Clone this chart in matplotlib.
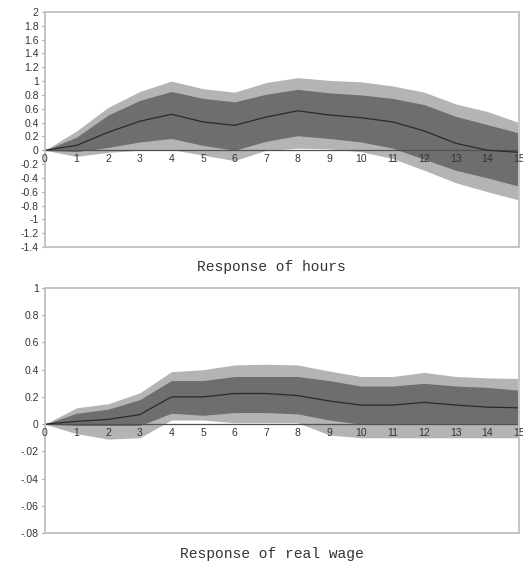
"""Impulse responses of hours and real wage with two confidence bands."""
import matplotlib

matplotlib.use("Agg")
import matplotlib.pyplot as plt
import numpy as np

horizon = np.arange(16)

# Response of hours
hours_median = [0, 0.07, 0.26, 0.42, 0.52, 0.41, 0.36, 0.48, 0.57, 0.51, 0.47, 0.41, 0.28, 0.10, 0.00, -0.03]
hours_inner_hi = [0, 0.19, 0.51, 0.72, 0.85, 0.75, 0.70, 0.81, 0.88, 0.83, 0.80, 0.75, 0.66, 0.49, 0.37, 0.25]
hours_inner_lo = [0, -0.02, 0.04, 0.12, 0.17, 0.07, 0.00, 0.13, 0.21, 0.17, 0.12, 0.03, -0.13, -0.29, -0.40, -0.52]
hours_outer_hi = [0, 0.28, 0.62, 0.85, 1.00, 0.89, 0.84, 0.98, 1.05, 1.01, 0.99, 0.93, 0.84, 0.67, 0.56, 0.40]
hours_outer_lo = [0, -0.09, -0.03, 0.00, 0.01, -0.07, -0.15, 0.00, 0.03, 0.02, -0.02, -0.12, -0.29, -0.47, -0.60, -0.72]

# Response of real wage
wage_median = [0, 0.02, 0.035, 0.07, 0.20, 0.20, 0.225, 0.225, 0.21, 0.17, 0.14, 0.14, 0.16, 0.14, 0.125, 0.12]
wage_inner_hi = [0, 0.08, 0.11, 0.18, 0.32, 0.32, 0.35, 0.35, 0.35, 0.32, 0.28, 0.28, 0.30, 0.28, 0.27, 0.25]
wage_inner_lo = [0, -0.01, -0.01, -0.01, 0.08, 0.065, 0.085, 0.085, 0.075, 0.03, 0.0, 0.0, 0.0, 0.0, 0.0, 0.0]
wage_outer_hi = [0, 0.12, 0.15, 0.23, 0.385, 0.40, 0.435, 0.44, 0.435, 0.39, 0.35, 0.35, 0.38, 0.35, 0.34, 0.335]
wage_outer_lo = [0, -0.07, -0.11, -0.10, 0.03, 0.03, 0.01, 0.01, 0.01, -0.08, -0.10, -0.10, -0.10, -0.10, -0.10, -0.10]

hours_yticks = [2, 1.8, 1.6, 1.4, 1.2, 1, 0.8, 0.6, 0.4, 0.2, 0, -0.2, -0.4, -0.6, -0.8, -1, -1.2, -1.4]
hours_ylabels = ["2", "1.8", "1.6", "1.4", "1.2", "1", "0.8", "0.6", "0.4", "0.2", "0",
                 "-0.2", "-0.4", "-0.6", "-0.8", "-1", "-1.2", "-1.4"]
wage_yticks = [1, 0.8, 0.6, 0.4, 0.2, 0, -0.2, -0.4, -0.6, -0.8]
wage_ylabels = ["1", "0.8", "0.6", "0.4", "0.2", "0", "-.02", "-.04", "-.06", "-.08"]

LIGHT = "#b4b4b4"
DARK = "#6e6e6e"
FRAME = "#c4c4c4"


def draw_panel(ax, median, inner_lo, inner_hi, outer_lo, outer_hi, yticks, ylabels):
    ax.fill_between(horizon, outer_lo, outer_hi, color=LIGHT, lw=0)
    ax.fill_between(horizon, inner_lo, inner_hi, color=DARK, lw=0)
    ax.axhline(0, color="#505050", lw=0.9)
    ax.plot(horizon, median, color="#2a2a2a", lw=0.9)

    ax.set_xlim(0, 15)
    ax.set_ylim(min(yticks), max(yticks))
    ax.set_xticks([])
    ax.set_yticks(yticks)
    ax.set_yticklabels(ylabels, fontsize=7.5, family="Liberation Sans", color="#333333")
    ax.tick_params(axis="y", length=2.5, width=0.8, color="#999999", pad=2)

    for s in ax.spines.values():
        s.set_color(FRAME)
        s.set_linewidth(1.4)

    for h in horizon:
        ax.annotate(str(h), (h, 0), xytext=(0, -3), textcoords="offset points",
                    ha="center", va="top", fontsize=7.5, family="Liberation Sans",
                    color="#333333", annotation_clip=False)


fig = plt.figure(figsize=(5.23, 5.65), dpi=100)
ax_top = fig.add_axes([0.086, 0.5628, 0.9063, 0.416])
ax_bot = fig.add_axes([0.086, 0.0566, 0.9063, 0.4336])

draw_panel(ax_top, hours_median, hours_inner_lo, hours_inner_hi,
           hours_outer_lo, hours_outer_hi, hours_yticks, hours_ylabels)
draw_panel(ax_bot, wage_median, wage_inner_lo, wage_inner_hi,
           wage_outer_lo, wage_outer_hi, wage_yticks, wage_ylabels)

fig.text(0.519, 0.5274, "Response of hours", ha="center", va="center",
         family="Liberation Mono", fontsize=10.5, color="#333333")
fig.text(0.519, 0.0195, "Response of real wage", ha="center", va="center",
         family="Liberation Mono", fontsize=10.5, color="#333333")

fig.savefig("out.png", dpi=100)
